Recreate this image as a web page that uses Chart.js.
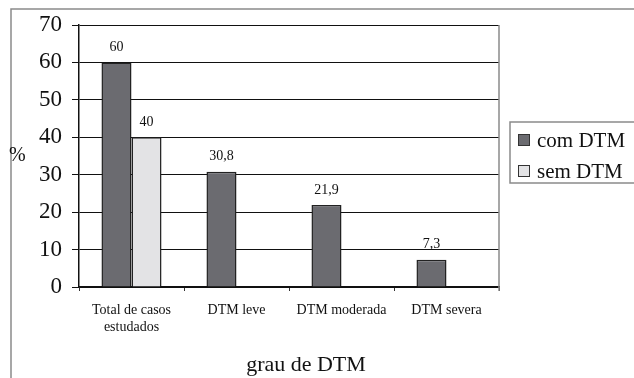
<!DOCTYPE html>
<html>
<head>
<meta charset="utf-8">
<script src="https://cdn.jsdelivr.net/npm/chart.js@4/dist/chart.umd.min.js"></script>
<style>
  html, body { margin: 0; padding: 0; background: #fff; }
  #wrap { width: 634px; height: 378px; }
</style>
</head>
<body>
<div id="wrap"><canvas id="dtmChart" width="634" height="378"></canvas></div>
<script>
const categories = [['Total de casos', 'estudados'], 'DTM leve', 'DTM moderada', 'DTM severa'];
const comDTM = [60, 30.8, 21.9, 7.3];
const semDTM = [40, null, null, null];
const seriesNames = ['com DTM', 'sem DTM'];
const yTicks = [0, 10, 20, 30, 40, 50, 60, 70];

const serif = '"Liberation Serif", "Times New Roman", serif';

// frame, right edge of plot, "%" label, x title, legend and value labels
const extras = {
  id: 'extras',
  afterDraw(chart) {
    const c = chart.ctx;
    const area = chart.chartArea;
    c.save();

    c.strokeStyle = '#8a8a8a';
    c.lineWidth = 1.5;
    c.beginPath();
    c.moveTo(11, 378);
    c.lineTo(11, 9);
    c.lineTo(634, 9);
    c.stroke();

    c.beginPath();
    c.moveTo(area.right, area.top);
    c.lineTo(area.right, area.bottom + 4);
    c.stroke();

    c.fillStyle = '#111';
    c.font = '20px ' + serif;
    c.textAlign = 'left';
    c.textBaseline = 'middle';
    c.fillText('%', 9, 156);

    c.font = '22px ' + serif;
    c.textAlign = 'center';
    c.fillText('grau de DTM', 306, 365);

    // value labels
    c.font = '14px ' + serif;
    chart.data.datasets.forEach((ds, i) => {
      const meta = chart.getDatasetMeta(i);
      meta.data.forEach((bar, j) => {
        const v = ds.data[j];
        if (v === null || v === undefined) return;
        c.fillText(String(v).replace('.', ','), bar.x, bar.y - 15);
      });
    });

    // legend
    c.strokeStyle = '#8a8a8a';
    c.lineWidth = 1.5;
    c.strokeRect(510, 122, 140, 61);
    c.font = '21px ' + serif;
    c.textAlign = 'left';
    chart.data.datasets.forEach((ds, i) => {
      const y = 140 + i * 31;
      c.fillStyle = ds.backgroundColor;
      c.fillRect(518, y - 6, 12, 12);
      c.strokeStyle = '#333';
      c.lineWidth = 1;
      c.strokeRect(518.5, y - 5.5, 11, 11);
      c.fillStyle = '#111';
      c.fillText(ds.label, 537, y + 1);
    });

    c.restore();
  }
};

const ctx = document.getElementById('dtmChart').getContext('2d');
const dtmChart = new Chart(ctx, {
  type: 'bar',
  data: {
    labels: categories,
    datasets: [
      {
        label: seriesNames[0],
        data: comDTM,
        backgroundColor: '#6b6b70',
        borderColor: '#222',
        borderWidth: 1.5
      },
      {
        label: seriesNames[1],
        data: semDTM,
        backgroundColor: '#e3e3e5',
        borderColor: '#222',
        borderWidth: 1.5
      }
    ]
  },
  options: {
    responsive: false,
    animation: false,
    layout: { padding: { left: 0, top: 25, right: 135, bottom: 0 } },
    categoryPercentage: 0.572,
    barPercentage: 1,
    plugins: {
      legend: { display: false },
      tooltip: { enabled: false }
    },
    scales: {
      x: {
        grid: { drawOnChartArea: false, drawTicks: true, tickLength: 4, color: '#333', offset: true },
        border: { color: '#111', width: 1.5 },
        ticks: {
          color: '#111',
          font: { family: serif, size: 14 },
          padding: 11,
          maxRotation: 0,
          autoSkip: false
        },
        afterFit(scale) { scale.height = 91; }
      },
      y: {
        min: 0,
        max: 70,
        grid: { color: '#111', lineWidth: 1, drawTicks: true, tickLength: 7 },
        border: { color: '#111', width: 1.5 },
        afterBuildTicks(scale) { scale.ticks = yTicks.map(v => ({ value: v })); },
        ticks: {
          color: '#111',
          font: { family: serif, size: 23 },
          padding: 10
        },
        afterFit(scale) { scale.width = 79; }
      }
    }
  },
  plugins: [extras]
});
</script>
</body>
</html>
